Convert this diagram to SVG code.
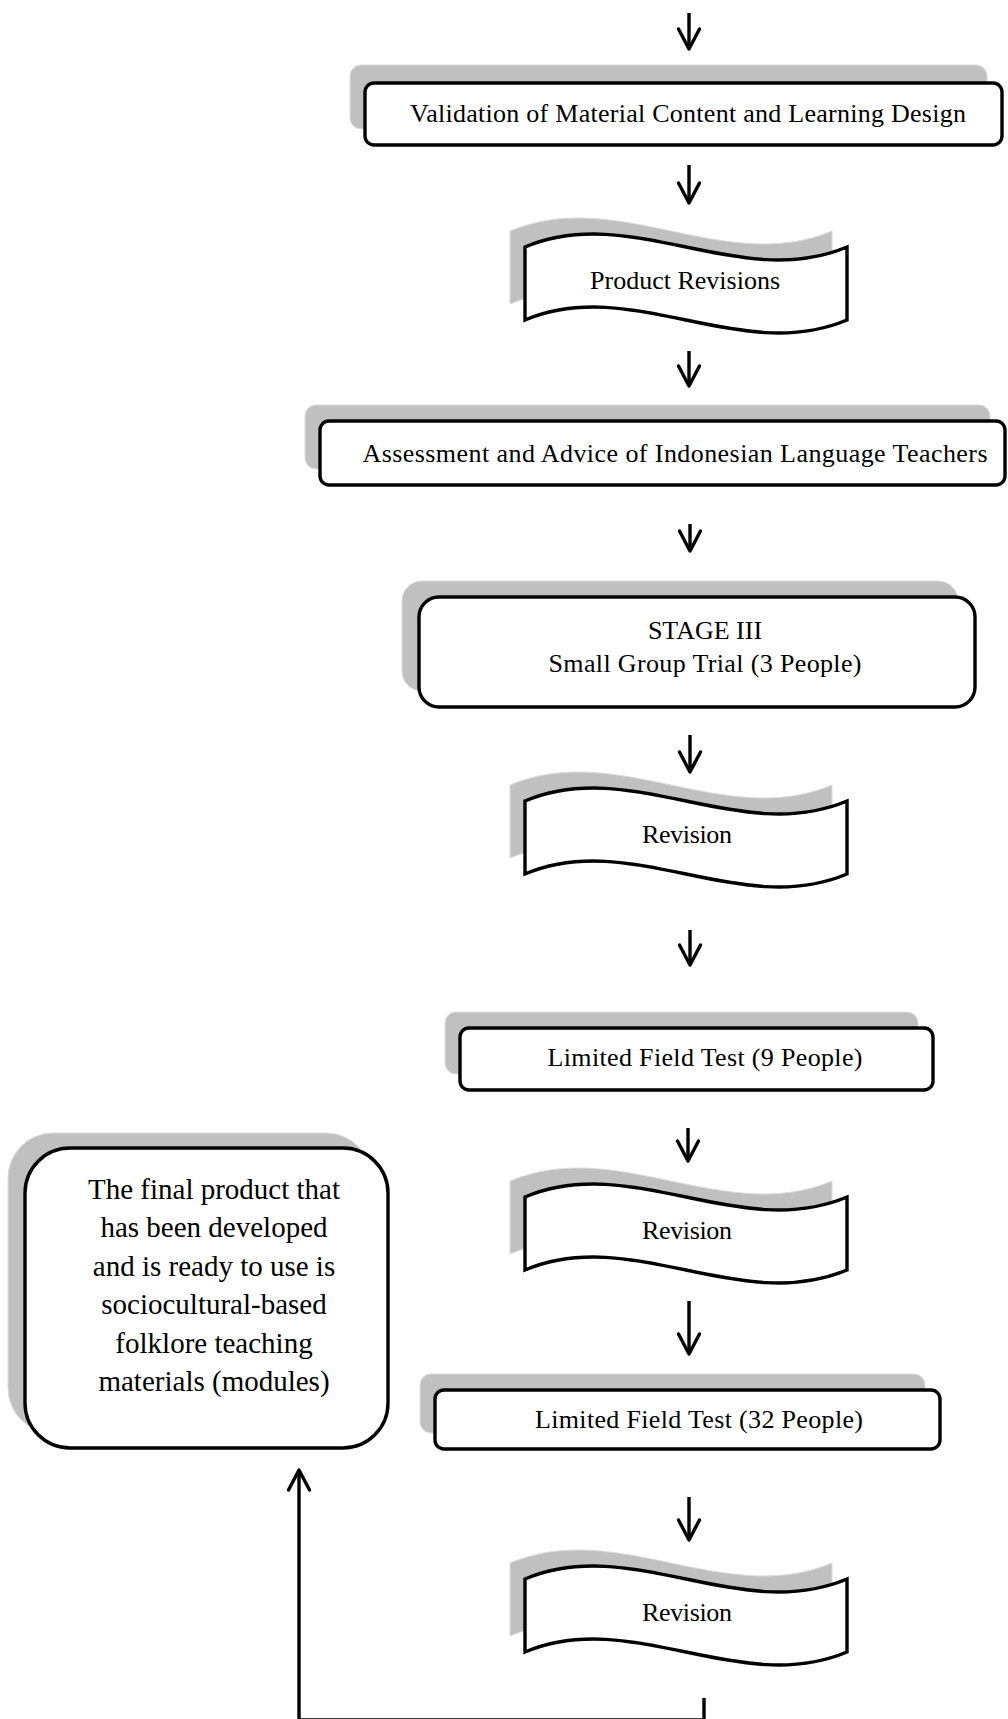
<svg xmlns="http://www.w3.org/2000/svg" width="1008" height="1719" viewBox="0 0 1008 1719">
<style>
.sh{fill:#c0c0c0;stroke:#dcdcdc;stroke-width:1}
.bx{fill:#fff;stroke:#000;stroke-width:3.4}
.t{font-family:"Liberation Serif","Times New Roman",serif;font-size:26px;fill:#000;text-anchor:middle}
.tb{font-size:29px}
.c{fill:none;stroke:#000;stroke-width:3.4;marker-end:url(#ah)}
</style>
<defs>
<path id="wave" d="M0,13 C107,-32 215,58 322,13 L322,86 C215,131 107,41 0,86 Z"/>
<marker id="ah" markerUnits="userSpaceOnUse" markerWidth="30" markerHeight="30" viewBox="0 0 30 30" refX="25" refY="15" orient="auto">
<path d="M5,4.5 L25,15 L5,25.5" fill="none" stroke="#000" stroke-width="3.4" stroke-linecap="round" stroke-linejoin="round"/>
</marker>
</defs>
<rect x="0" y="0" width="1008" height="1719" fill="#fff"/>

<g id="connectors">
<path class="c" d="M689,13 V49"/>
<path class="c" d="M689,165 V203"/>
<path class="c" d="M689,351 V386"/>
<path class="c" d="M690,524 V551"/>
<path class="c" d="M690,735 V772"/>
<path class="c" d="M690,930 V965"/>
<path class="c" d="M688,1128 V1161"/>
<path class="c" d="M689,1301 V1354"/>
<path class="c" d="M689,1497 V1540"/>
<path class="c" d="M704,1698 V1720 H299 V1470"/>
</g>

<g id="n1">
<rect class="sh" x="350" y="65" width="637" height="64" rx="11"/>
<rect class="bx" x="365" y="83" width="637" height="62" rx="9"/>
<text class="t" x="688" y="122" textLength="556">Validation  of Material Content and Learning Design</text>
</g>

<g id="n2" transform="translate(525,234)">
<use href="#wave" class="sh" transform="translate(-15,-16)"/>
<use href="#wave" class="bx"/>
<text class="t" x="160" y="55" textLength="190">Product Revisions</text>
</g>

<g id="n3">
<rect class="sh" x="305" y="405" width="685" height="64" rx="11"/>
<rect class="bx" x="320" y="421" width="685" height="64" rx="9"/>
<text class="t" x="675" y="462" textLength="625">Assessment and Advice of Indonesian Language Teachers</text>
</g>

<g id="n4">
<rect class="sh" x="402" y="581" width="556" height="110" rx="20"/>
<rect class="bx" x="419" y="597" width="556" height="110" rx="20"/>
<text class="t" x="705" y="639">STAGE III</text>
<text class="t" x="705" y="672" textLength="313">Small Group Trial (3 People)</text>
</g>

<g id="n5" transform="translate(525,788)">
<use href="#wave" class="sh" transform="translate(-15,-16)"/>
<use href="#wave" class="bx"/>
<text class="t" x="162" y="55" textLength="90">Revision</text>
</g>

<g id="n6">
<rect class="sh" x="445" y="1012" width="473" height="62" rx="11"/>
<rect class="bx" x="460" y="1028" width="473" height="62" rx="9"/>
<text class="t" x="705" y="1066" textLength="315">Limited Field Test (9 People)</text>
</g>

<g id="n7" transform="translate(525,1184)">
<use href="#wave" class="sh" transform="translate(-15,-16)"/>
<use href="#wave" class="bx"/>
<text class="t" x="162" y="55" textLength="90">Revision</text>
</g>

<g id="n8">
<rect class="sh" x="420" y="1374" width="505" height="59" rx="11"/>
<rect class="bx" x="435" y="1390" width="505" height="59" rx="9"/>
<text class="t" x="699" y="1428" textLength="328">Limited Field Test (32 People)</text>
</g>

<g id="n9" transform="translate(525,1566)">
<use href="#wave" class="sh" transform="translate(-15,-16)"/>
<use href="#wave" class="bx"/>
<text class="t" x="162" y="55" textLength="90">Revision</text>
</g>

<g id="n10">
<rect class="sh" x="8" y="1133" width="363" height="300" rx="45"/>
<rect class="bx" x="25" y="1148" width="363" height="300" rx="45"/>
<text class="t tb" x="214" y="1199">The final product that</text>
<text class="t tb" x="214" y="1237">has been developed</text>
<text class="t tb" x="214" y="1276">and is ready to use is</text>
<text class="t tb" x="214" y="1314">sociocultural-based</text>
<text class="t tb" x="214" y="1353">folklore teaching</text>
<text class="t tb" x="214" y="1391">materials (modules)</text>
</g>
</svg>
